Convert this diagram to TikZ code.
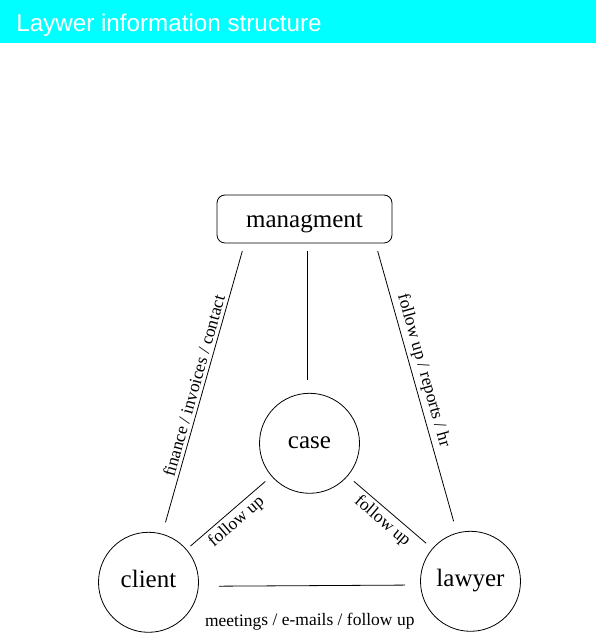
\documentclass[tikz,border=0pt]{standalone}
\usepackage{fontspec}
\setmainfont{Liberation Serif}
\newfontfamily\titlefont{Liberation Sans}
\usetikzlibrary{positioning}
\definecolor{titlecyan}{RGB}{0,255,255}

\begin{document}
\begin{tikzpicture}[x=1pt, y=1pt,
line width=0.8pt,
block/.style={draw, rectangle, rounded corners=8pt, minimum width=175pt, minimum height=48pt, text height=16.5pt, text depth=0pt, font=\fontsize{25}{30}\selectfont},
round/.style={draw, circle, minimum size=100pt, inner sep=0pt, text height=11pt, text depth=0pt, font=\fontsize{25}{30}\selectfont},
lbl/.style={font=\fontsize{17.5}{21}\selectfont, sloped}]

\useasboundingbox (0,0) rectangle (596,639);

% title bar
\fill[titlecyan] (0,596) rectangle (596,639);
\node[anchor=base west, inner sep=0pt, text=white, font=\titlefont\fontsize{24.2}{28}\selectfont] (title) at (16,607.3) {Laywer information structure};

\node[block]		(mgmt) at (304.5,420)		{managment};
\node[round]		(case) [below=149.5pt of mgmt, xshift=5pt]		{case};
\node[round]		(client) at ([xshift=-161pt, yshift=-139pt]case)		{client};
\node[round]		(lawyer) at ([xshift=161pt, yshift=-138pt]case)		{lawyer};

\path
 ([xshift=2.5pt]mgmt.south)	edge[shorten <=8pt, shorten >=12.5pt]		([xshift=-2.5pt]case.north)
 (client)	edge[shorten <=12pt, shorten >=8pt] node[lbl, above]		{finance / invoices / contact}	([xshift=-60pt]mgmt.south)
 ([xshift=71pt]mgmt.south)	edge[shorten <=8pt, shorten >=12pt] node[lbl, above, pos=0.45]		{follow up / reports / hr}	(lawyer)
 (client)	edge[shorten <=5pt, shorten >=8pt] node[lbl, below]		{follow up}	(case)
 (case)	edge[shorten <=8pt, shorten >=8pt] node[lbl, below]		{follow up}	(lawyer)
 ([yshift=-4pt]client.east)	edge[shorten <=20pt, shorten >=15pt] node[lbl, below=24pt]		{meetings / e-mails / follow up}	([yshift=-3.7pt]lawyer.west);

\end{tikzpicture}
\end{document}
